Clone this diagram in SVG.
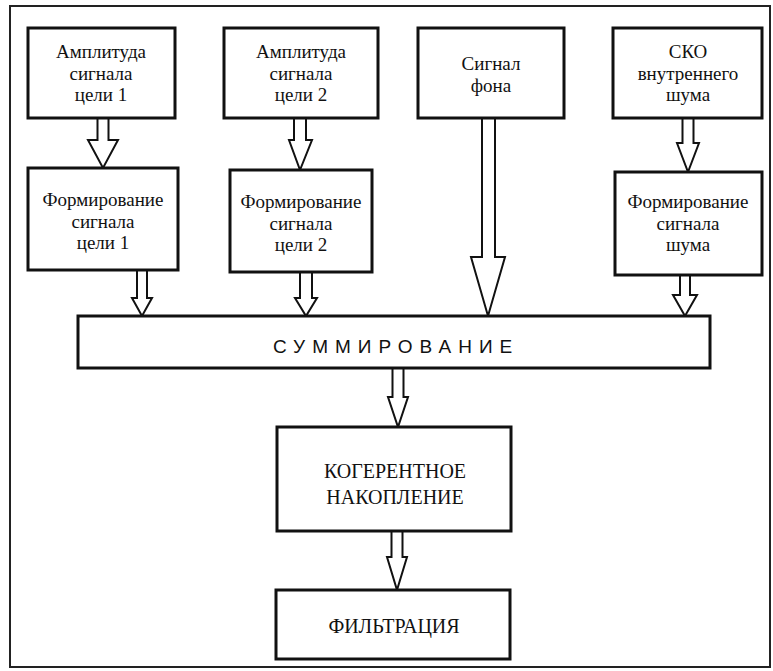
<svg xmlns="http://www.w3.org/2000/svg" width="773" height="671" viewBox="0 0 773 671">
<style>
.box{fill:#fff;stroke:#111;stroke-width:3}
.frame{fill:#fff;stroke:#222;stroke-width:2}
.t{font-family:"Liberation Serif","Times New Roman",serif;font-size:19px;fill:#111;text-anchor:middle}
.cap{font-family:"Liberation Serif","Times New Roman",serif;font-size:20px;fill:#111;text-anchor:middle}
.sum{font-family:"Liberation Sans",Arial,sans-serif;font-size:19px;fill:#111;letter-spacing:7px}
.arr{fill:#fff;stroke:#111;stroke-width:2;stroke-linejoin:miter}
</style>
<rect class="frame" x="10" y="6" width="760" height="661"/>
<g id="connectors">
<path class="arr" d="M97.5,118 L97.5,140 L88,140 L103,168 L118,140 L108.5,140 L108.5,118"/>
<path class="arr" d="M294,118 L294,140 L289,140 L300,170 L312,140 L306,140 L306,118"/>
<path class="arr" d="M137,270 L137,298 L132,298 L142,316 L152,298 L147,298 L147,270"/>
<path class="arr" d="M300,272 L300,298 L295,298 L306,316 L317,298 L312,298 L312,272"/>
<path class="arr" d="M482,118 L482,257 L471,257 L488,316 L505,257 L495,257 L495,118"/>
<path class="arr" d="M682.5,118 L682.5,143 L677,143 L688,172 L699,143 L693.5,143 L693.5,118"/>
<path class="arr" d="M680,275 L680,295 L673,295 L685,316 L697,295 L690,295 L690,275"/>
<path class="arr" d="M392.5,368 L392.5,397 L388,397 L398,427 L408,397 L403.5,397 L403.5,368"/>
<path class="arr" d="M391.5,531 L391.5,557 L387,557 L397,590 L407,557 L402.5,557 L402.5,531"/>
</g>
<g id="amp1">
<rect class="box" x="28" y="28" width="147" height="90"/>
<text class="t" x="101" y="58">Амплитуда</text>
<text class="t" x="101" y="79.5">сигнала</text>
<text class="t" x="101" y="101">цели 1</text>
</g>
<g id="amp2">
<rect class="box" x="224" y="28" width="154" height="90"/>
<text class="t" x="301" y="58">Амплитуда</text>
<text class="t" x="301" y="79.5">сигнала</text>
<text class="t" x="301" y="101">цели 2</text>
</g>
<g id="background">
<rect class="box" x="418" y="28" width="146" height="90"/>
<text class="t" x="491" y="70">Сигнал</text>
<text class="t" x="491" y="92">фона</text>
</g>
<g id="sko">
<rect class="box" x="613" y="28" width="149" height="90"/>
<text class="t" x="688" y="58">СКО</text>
<text class="t" x="688" y="79.5">внутреннего</text>
<text class="t" x="688" y="101">шума</text>
</g>
<g id="form1">
<rect class="box" x="28" y="168" width="150" height="102"/>
<text class="t" x="103" y="206">Формирование</text>
<text class="t" x="103" y="227.5">сигнала</text>
<text class="t" x="103" y="249">цели 1</text>
</g>
<g id="form2">
<rect class="box" x="230" y="170" width="142" height="102"/>
<text class="t" x="301" y="208">Формирование</text>
<text class="t" x="301" y="229.5">сигнала</text>
<text class="t" x="301" y="251">цели 2</text>
</g>
<g id="formnoise">
<rect class="box" x="615" y="172" width="147" height="103"/>
<text class="t" x="688" y="208">Формирование</text>
<text class="t" x="688" y="229.5">сигнала</text>
<text class="t" x="688" y="251">шума</text>
</g>
<g id="summation">
<rect class="box" x="78" y="316" width="632" height="52"/>
<text class="sum" x="273" y="353">СУММИРОВАНИЕ</text>
</g>
<g id="coherent">
<rect class="box" x="277" y="427" width="234" height="104"/>
<text class="cap" x="395" y="478">КОГЕРЕНТНОЕ</text>
<text class="cap" x="395" y="504">НАКОПЛЕНИЕ</text>
</g>
<g id="filter">
<rect class="box" x="276" y="590" width="234" height="69"/>
<text class="cap" x="394" y="633">ФИЛЬТРАЦИЯ</text>
</g>
</svg>
